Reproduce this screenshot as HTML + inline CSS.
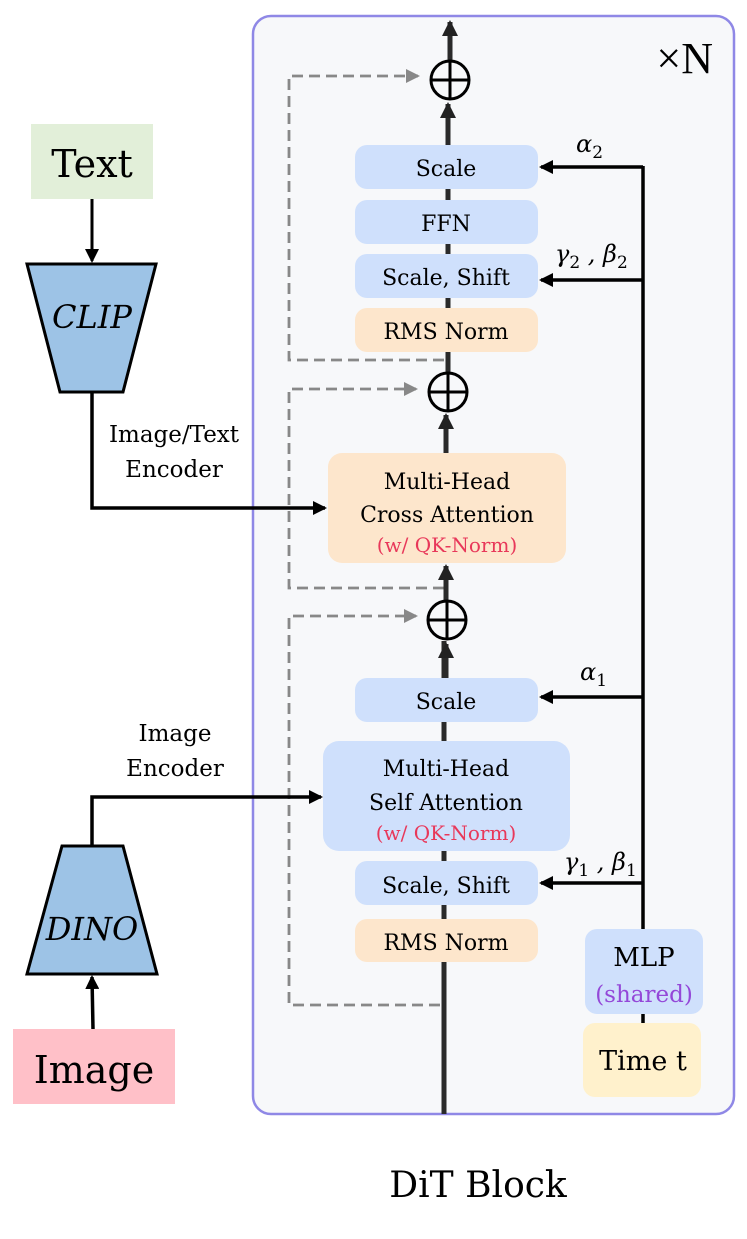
<!DOCTYPE html>
<html><head><meta charset="utf-8"><style>
html,body{margin:0;padding:0;background:#fff;}
text{font-family:"DejaVu Serif","Liberation Serif",serif;}
</style></head><body>
<svg width="747" height="1234" viewBox="0 0 747 1234" xmlns="http://www.w3.org/2000/svg">
<defs>
<marker id="ab" markerWidth="14" markerHeight="14" refX="12" refY="7" orient="auto" markerUnits="userSpaceOnUse"><path d="M0,0 L14,7 L0,14 Z" fill="#000"/></marker>
<marker id="ag" markerWidth="14" markerHeight="14" refX="12" refY="7" orient="auto" markerUnits="userSpaceOnUse"><path d="M0,0 L14,7 L0,14 Z" fill="#888"/></marker>
<marker id="at" markerWidth="16" markerHeight="16" refX="14" refY="8" orient="auto" markerUnits="userSpaceOnUse"><path d="M0,0 L16,8 L0,16 Z" fill="#222"/></marker>
</defs>
<rect x="253" y="16" width="481" height="1098" rx="18" fill="#f7f8fa" stroke="#8f88e6" stroke-width="2.5"/>
<text x="713" y="73" font-size="44" text-anchor="end" style="font-family:'Liberation Serif',serif">×N</text>

<g stroke="#888" stroke-width="2.8" stroke-dasharray="11,6" fill="none">
<path d="M444,360 H289 V76 H418" marker-end="url(#ag)"/>
<path d="M444,588 H289 V389 H416" marker-end="url(#ag)"/>
<path d="M440,1005 H289 V616 H416" marker-end="url(#ag)"/>
</g>

<g stroke="#2a2a2a" stroke-width="5" fill="none">
<line x1="444" y1="1114" x2="444" y2="641"/>
<line x1="446" y1="601" x2="446" y2="566" marker-end="url(#at)"/>
<line x1="446" y1="453" x2="446" y2="415" marker-end="url(#at)"/>
<line x1="448" y1="373" x2="448" y2="300"/>
<line x1="448" y1="145" x2="448" y2="104" marker-end="url(#at)"/>
<line x1="448" y1="300" x2="448" y2="150"/>
<line x1="450" y1="60" x2="450" y2="22" marker-end="url(#at)"/>
<line x1="446" y1="678" x2="446" y2="644" marker-end="url(#at)"/>
</g>

<g stroke="#000" stroke-width="3" fill="#f7f8fa">
<circle cx="450" cy="80" r="19"/><path d="M431,80 H469 M450,61 V99"/>
<circle cx="448" cy="392" r="19"/><path d="M429,392 H467 M448,373 V411"/>
<circle cx="447" cy="620" r="19"/><path d="M428,620 H466 M447,601 V639"/>
</g>

<g font-size="22" text-anchor="middle">
<rect x="355" y="145" width="183" height="44" rx="12" fill="#cfe0fc"/><text x="446" y="176">Scale</text>
<rect x="355" y="200" width="183" height="44" rx="12" fill="#cfe0fc"/><text x="446" y="231">FFN</text>
<rect x="355" y="254" width="183" height="44" rx="12" fill="#cfe0fc"/><text x="446" y="285">Scale, Shift</text>
<rect x="355" y="308" width="183" height="44" rx="12" fill="#fde6cc"/><text x="446" y="339">RMS Norm</text>
<rect x="328" y="453" width="238" height="110" rx="14" fill="#fde6cc"/>
<text x="447" y="489">Multi-Head</text><text x="447" y="522">Cross Attention</text>
<text x="447" y="552" fill="#e8385a" font-size="20">(w/ QK-Norm)</text>
<rect x="355" y="678" width="183" height="44" rx="12" fill="#cfe0fc"/><text x="446" y="709">Scale</text>
<rect x="323" y="741" width="247" height="110" rx="16" fill="#cfe0fc"/>
<text x="446" y="776">Multi-Head</text><text x="446" y="810">Self Attention</text>
<text x="446" y="840" fill="#e8385a" font-size="20">(w/ QK-Norm)</text>
<rect x="355" y="861" width="183" height="44" rx="12" fill="#cfe0fc"/><text x="446" y="893">Scale, Shift</text>
<rect x="355" y="919" width="183" height="43" rx="12" fill="#fde6cc"/><text x="446" y="950">RMS Norm</text>
<rect x="585" y="929" width="118" height="85" rx="12" fill="#cfe0fc"/>
<text x="644" y="966" font-size="26">MLP</text><text x="644" y="1002" fill="#9448d8" font-size="23">(shared)</text>
<rect x="583" y="1023" width="118" height="74" rx="12" fill="#fff1cc"/><text x="643" y="1070" font-size="27">Time t</text>
</g>

<g stroke="#000" stroke-width="3.5" fill="none">
<line x1="643" y1="1023" x2="643" y2="1014"/>
<line x1="643" y1="929" x2="643" y2="166"/>
<line x1="643" y1="167" x2="541" y2="167" marker-end="url(#ab)"/>
<line x1="643" y1="280" x2="541" y2="280" marker-end="url(#ab)"/>
<line x1="643" y1="697" x2="541" y2="697" marker-end="url(#ab)"/>
<line x1="643" y1="883" x2="541" y2="883" marker-end="url(#ab)"/>
</g>
<g font-size="24" font-style="italic">
<text x="576" y="152">α<tspan font-size="17" font-style="normal" dy="6">2</tspan></text>
<text x="555" y="262">γ<tspan font-size="17" font-style="normal" dy="6">2</tspan><tspan dy="-6"> , β</tspan><tspan font-size="17" font-style="normal" dy="6">2</tspan></text>
<text x="580" y="680">α<tspan font-size="17" font-style="normal" dy="6">1</tspan></text>
<text x="564" y="870">γ<tspan font-size="17" font-style="normal" dy="6">1</tspan><tspan dy="-6"> , β</tspan><tspan font-size="17" font-style="normal" dy="6">1</tspan></text>
</g>

<rect x="31" y="124" width="122" height="75" fill="#e2efd9"/>
<text x="92" y="177" font-size="38" text-anchor="middle">Text</text>
<line x1="92" y1="199" x2="92" y2="261" stroke="#000" stroke-width="3" marker-end="url(#ab)"/>
<polygon points="27,264 156,264 123,392 60,392" fill="#9dc3e6" stroke="#000" stroke-width="3"/>
<text x="92" y="328" font-size="32" font-style="italic" text-anchor="middle">CLIP</text>
<path d="M92,392 V508 H325" stroke="#000" stroke-width="3.5" fill="none" marker-end="url(#ab)"/>
<text x="174" y="442" font-size="23" text-anchor="middle">Image/Text</text>
<text x="174" y="477" font-size="23" text-anchor="middle">Encoder</text>

<text x="175" y="741" font-size="23" text-anchor="middle">Image</text>
<text x="175" y="776" font-size="23" text-anchor="middle">Encoder</text>
<path d="M92,846 V797 H321" stroke="#000" stroke-width="3.5" fill="none" marker-end="url(#ab)"/>
<polygon points="62,846 123,846 157,974 27,974" fill="#9dc3e6" stroke="#000" stroke-width="3"/>
<text x="92" y="940" font-size="32" font-style="italic" text-anchor="middle">DINO</text>
<line x1="93" y1="1029" x2="92" y2="977" stroke="#000" stroke-width="3.5" marker-end="url(#ab)"/>
<rect x="13" y="1029" width="162" height="75" fill="#ffc0c8"/>
<text x="94" y="1083" font-size="38" text-anchor="middle">Image</text>

<text x="478" y="1197" font-size="36" text-anchor="middle">DiT Block</text>
</svg>
</body></html>
